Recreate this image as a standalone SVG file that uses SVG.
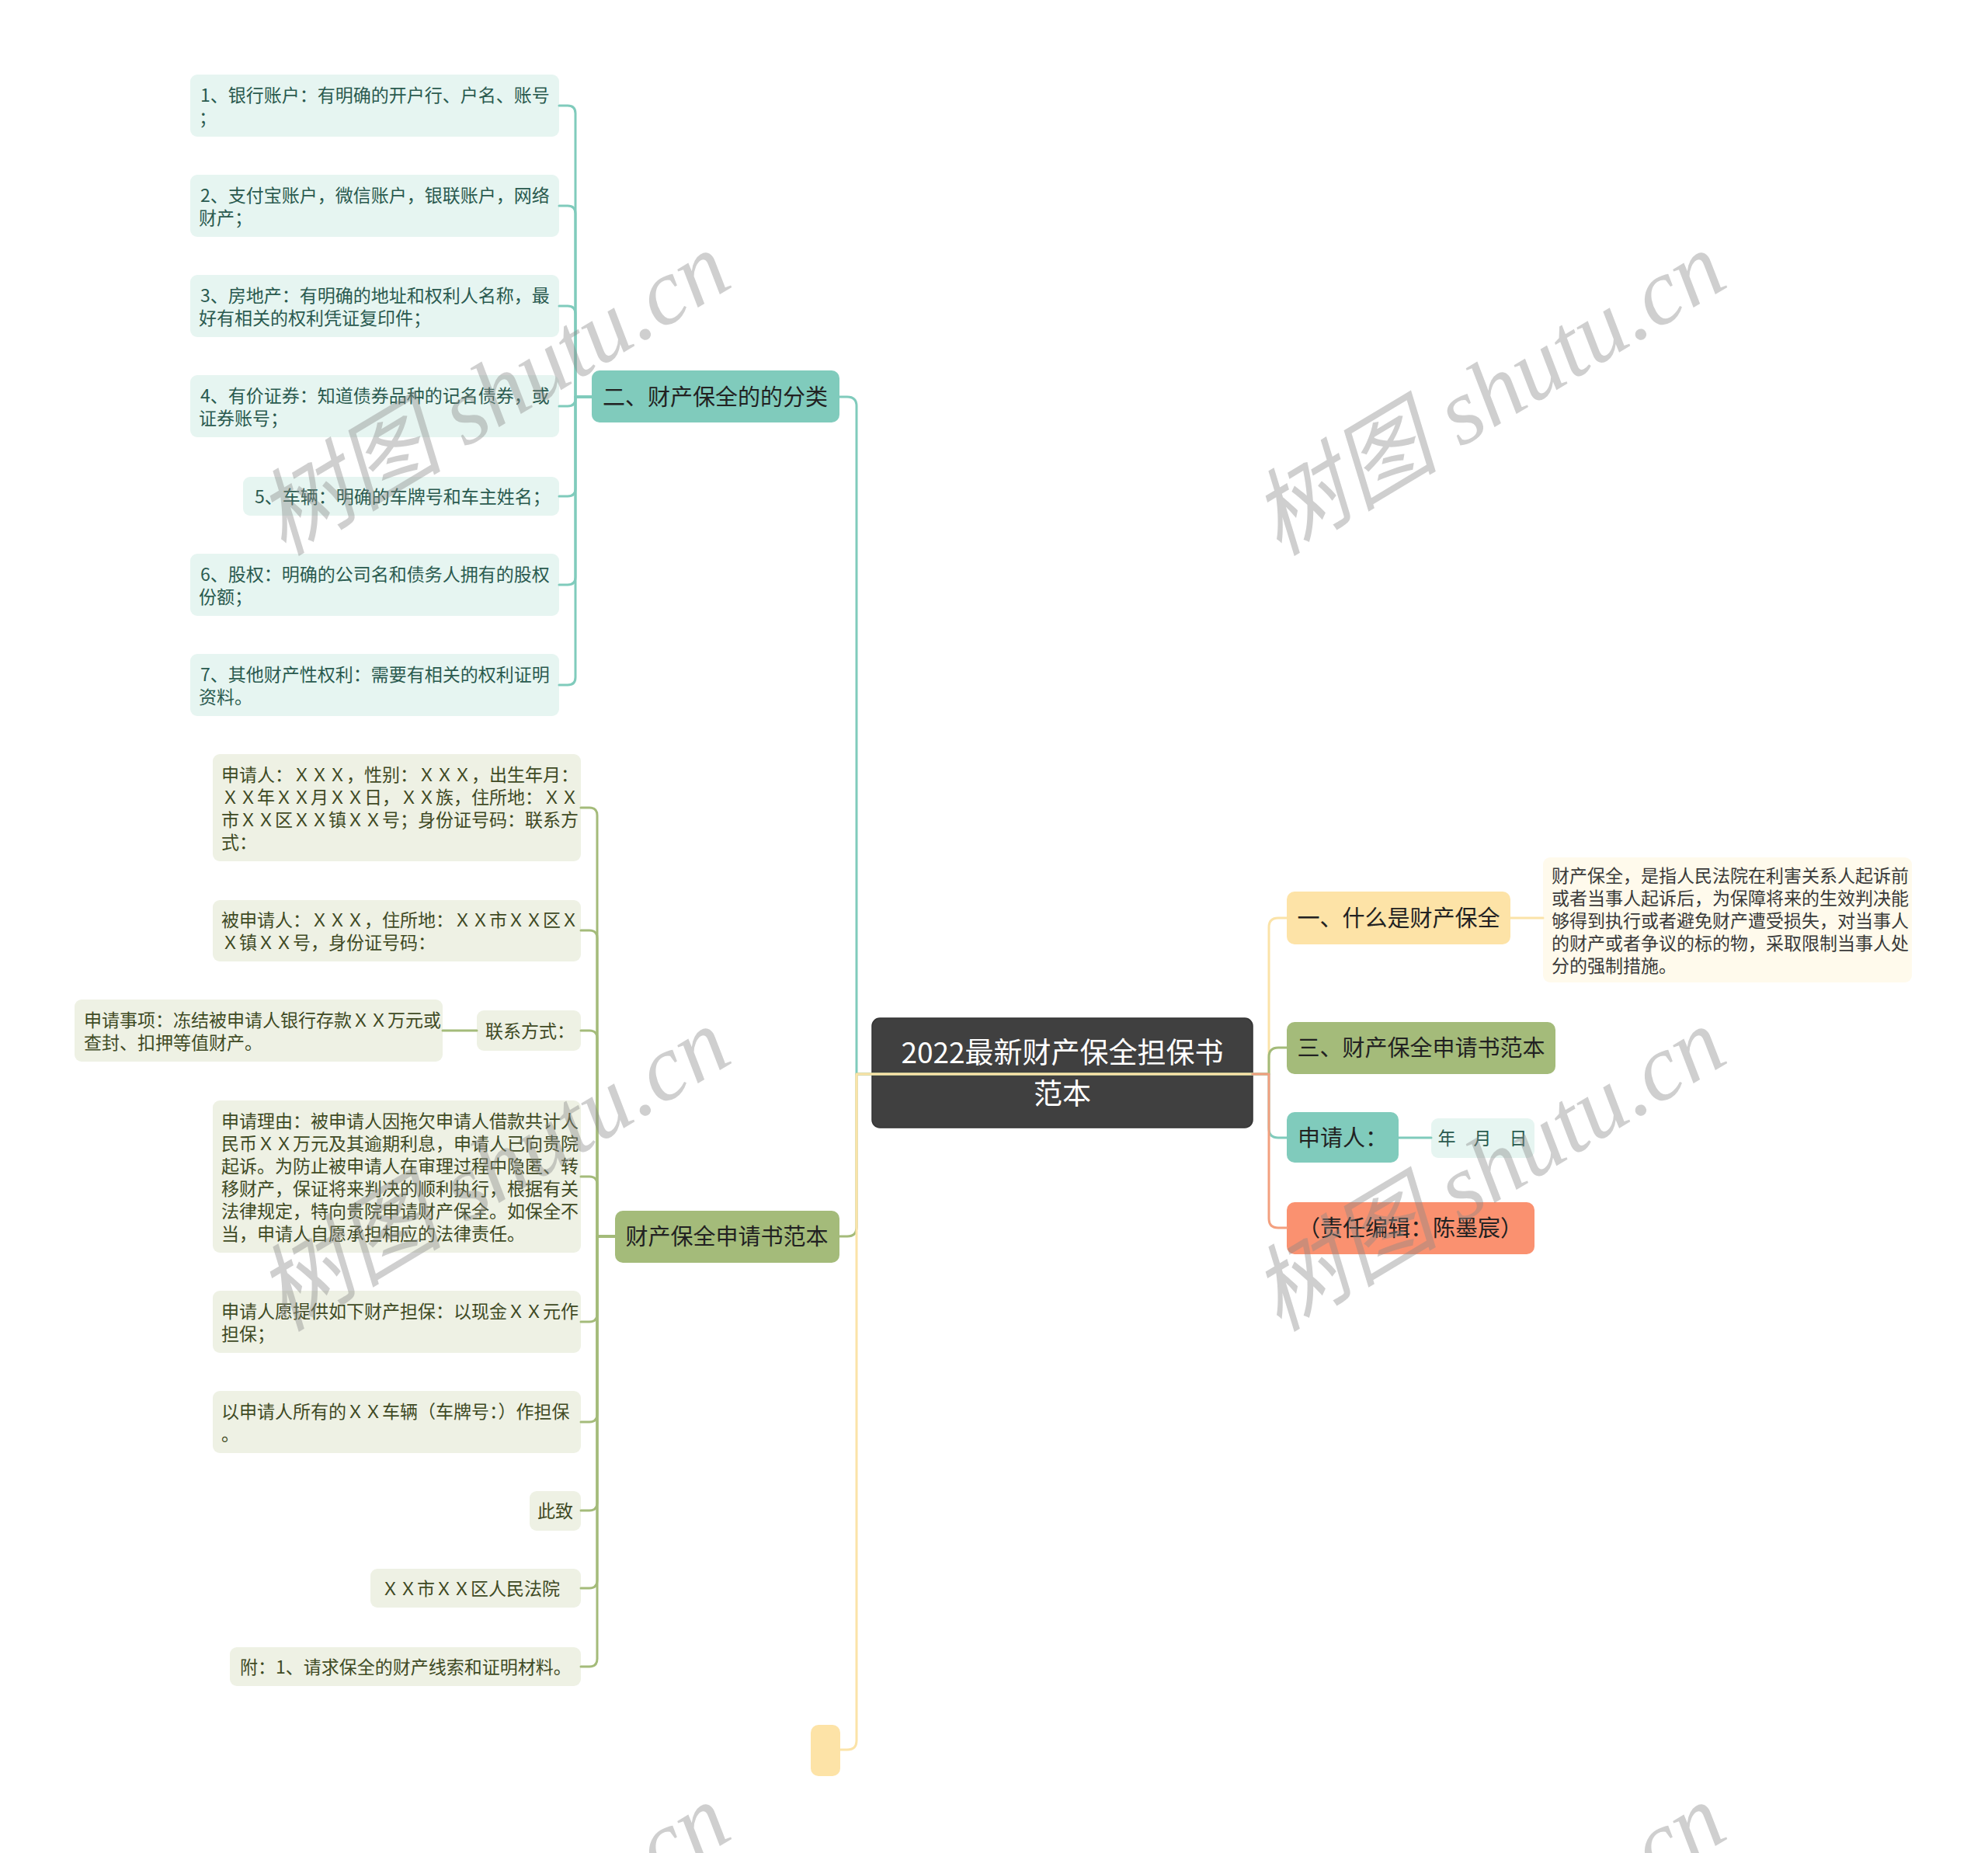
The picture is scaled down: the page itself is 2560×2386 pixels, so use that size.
<svg xmlns="http://www.w3.org/2000/svg" width="2560" height="2386" viewBox="0 0 2560 2386">
<style>
text { font-family: "Noto Sans CJK SC", "Noto Sans", sans-serif; }
.lt { font-size: 23px; fill: #2a5a4f; }
.lg { font-size: 23px; fill: #3f4a24; }
.ly { font-size: 23px; fill: #3a3a3a; }
.mn { font-size: 29px; fill: #222; text-anchor: middle; }
.ct { font-size: 37px; fill: #fff; text-anchor: middle; }
.bt { fill: #e6f5f1; }
.bg { fill: #eef1e4; }
.c { fill: none; stroke-width: 3; stroke-linecap: round; stroke-linejoin: round; }
.ct1 { stroke: #80cbbc; }
.cg { stroke: #a4bb7a; }
.cy { stroke: #fbe3a8; }
.co { stroke: #f3a07f; }
.wm { font-family: "Liberation Serif", "Noto Sans CJK SC", serif; font-style: italic; font-size: 121px; fill: #888; opacity: 0.4; text-anchor: middle; }
</style>
<rect width="2560" height="2386" fill="#fff"/>

<g id="nodes">
  <g id="root">
    <rect x="1123" y="1311" width="490" height="141" rx="10" fill="#404040" stroke="#333" stroke-width="1.5"/>
    <text class="ct" x="1368" y="1369">2022最新财产保全担保书</text>
    <text class="ct" x="1368" y="1422">范本</text>
  </g>

  <g id="n-fenlei">
    <rect x="762" y="477" width="319" height="67" rx="10" fill="#80cbbc"/>
    <text class="mn" x="921" y="522">二、财产保全的的分类</text>
  </g>
  <g id="t1">
    <rect class="bt" x="245" y="96" width="475" height="80" rx="9"/>
    <text class="lt" x="258" y="130.5">1、银行账户：有明确的开户行、户名、账号</text>
    <text class="lt" x="256" y="159.5">；</text>
  </g>
  <g id="t2">
    <rect class="bt" x="245" y="225" width="475" height="80" rx="9"/>
    <text class="lt" x="258" y="259.5">2、支付宝账户，微信账户，银联账户，网络</text>
    <text class="lt" x="256" y="288.5">财产；</text>
  </g>
  <g id="t3">
    <rect class="bt" x="245" y="354" width="475" height="80" rx="9"/>
    <text class="lt" x="258" y="388.5">3、房地产：有明确的地址和权利人名称，最</text>
    <text class="lt" x="256" y="417.5">好有相关的权利凭证复印件；</text>
  </g>
  <g id="t4">
    <rect class="bt" x="245" y="483" width="475" height="80" rx="9"/>
    <text class="lt" x="258" y="517.5">4、有价证券：知道债券品种的记名债券，或</text>
    <text class="lt" x="256" y="546.5">证券账号；</text>
  </g>
  <g id="t5">
    <rect class="bt" x="313" y="614" width="407" height="50" rx="9"/>
    <text class="lt" x="328" y="648">5、车辆：明确的车牌号和车主姓名；</text>
  </g>
  <g id="t6">
    <rect class="bt" x="245" y="713" width="475" height="80" rx="9"/>
    <text class="lt" x="258" y="747.5">6、股权：明确的公司名和债务人拥有的股权</text>
    <text class="lt" x="256" y="776.5">份额；</text>
  </g>
  <g id="t7">
    <rect class="bt" x="245" y="842" width="475" height="80" rx="9"/>
    <text class="lt" x="258" y="876.5">7、其他财产性权利：需要有相关的权利证明</text>
    <text class="lt" x="256" y="905.5">资料。</text>
  </g>

  <g id="n-fanben">
    <rect x="792" y="1559" width="289" height="67" rx="10" fill="#a4bb7a"/>
    <text class="mn" x="936" y="1603">财产保全申请书范本</text>
  </g>
  <g id="gA">
    <rect class="bg" x="274" y="971" width="474" height="138" rx="9"/>
    <text class="lg" x="285" y="1005.5">申请人：ＸＸＸ，性别：ＸＸＸ，出生年月：</text>
    <text class="lg" x="285" y="1034.5">ＸＸ年ＸＸ月ＸＸ日，ＸＸ族，住所地：ＸＸ</text>
    <text class="lg" x="285" y="1063.5">市ＸＸ区ＸＸ镇ＸＸ号；身份证号码：联系方</text>
    <text class="lg" x="285" y="1092.5">式：</text>
  </g>
  <g id="gB">
    <rect class="bg" x="274" y="1159" width="474" height="79" rx="9"/>
    <text class="lg" x="285" y="1193">被申请人：ＸＸＸ，住所地：ＸＸ市ＸＸ区Ｘ</text>
    <text class="lg" x="285" y="1222">Ｘ镇ＸＸ号，身份证号码：</text>
  </g>
  <g id="gC">
    <rect class="bg" x="614" y="1301" width="134" height="52" rx="9"/>
    <text class="lg" x="625" y="1336">联系方式：</text>
  </g>
  <g id="gC1">
    <rect class="bg" x="96" y="1287" width="474" height="80" rx="9"/>
    <text class="lg" x="108" y="1321.5">申请事项：冻结被申请人银行存款ＸＸ万元或</text>
    <text class="lg" x="108" y="1350.5">查封、扣押等值财产。</text>
  </g>
  <g id="gD">
    <rect class="bg" x="274" y="1417" width="474" height="196" rx="9"/>
    <text class="lg" x="285" y="1451.5">申请理由：被申请人因拖欠申请人借款共计人</text>
    <text class="lg" x="285" y="1480.5">民币ＸＸ万元及其逾期利息，申请人已向贵院</text>
    <text class="lg" x="285" y="1509.5">起诉。为防止被申请人在审理过程中隐匿、转</text>
    <text class="lg" x="285" y="1538.5">移财产，保证将来判决的顺利执行，根据有关</text>
    <text class="lg" x="285" y="1567.5">法律规定，特向贵院申请财产保全。如保全不</text>
    <text class="lg" x="285" y="1596.5">当，申请人自愿承担相应的法律责任。</text>
  </g>
  <g id="gE">
    <rect class="bg" x="274" y="1662" width="474" height="80" rx="9"/>
    <text class="lg" x="285" y="1696.5">申请人愿提供如下财产担保：以现金ＸＸ元作</text>
    <text class="lg" x="285" y="1725.5">担保；</text>
  </g>
  <g id="gF">
    <rect class="bg" x="274" y="1791" width="474" height="80" rx="9"/>
    <text class="lg" x="285" y="1825.5">以申请人所有的ＸＸ车辆（车牌号：）作担保</text>
    <text class="lg" x="285" y="1854.5">。</text>
  </g>
  <g id="gG">
    <rect class="bg" x="682" y="1920" width="66" height="51" rx="9"/>
    <text class="lg" x="692" y="1954">此致</text>
  </g>
  <g id="gH">
    <rect class="bg" x="477" y="2020" width="271" height="50" rx="9"/>
    <text class="lg" x="491" y="2054">ＸＸ市ＸＸ区人民法院</text>
  </g>
  <g id="gI">
    <rect class="bg" x="296" y="2121" width="452" height="50" rx="9"/>
    <text class="lg" x="309" y="2155">附：1、请求保全的财产线索和证明材料。</text>
  </g>

  <g id="n-empty">
    <rect x="1044" y="2221" width="38" height="66" rx="10" fill="#fde3a7"/>
  </g>

  <g id="n-what">
    <rect x="1657" y="1148" width="288" height="68" rx="10" fill="#fde3a7"/>
    <text class="mn" x="1801" y="1193">一、什么是财产保全</text>
  </g>
  <g id="y1">
    <rect x="1987" y="1104" width="475" height="161" rx="9" fill="#fffaec"/>
    <text class="ly" x="1998" y="1135.5">财产保全，是指人民法院在利害关系人起诉前</text>
    <text class="ly" x="1998" y="1164.5">或者当事人起诉后，为保障将来的生效判决能</text>
    <text class="ly" x="1998" y="1193.5">够得到执行或者避免财产遭受损失，对当事人</text>
    <text class="ly" x="1998" y="1222.5">的财产或者争议的标的物，采取限制当事人处</text>
    <text class="ly" x="1998" y="1251.5">分的强制措施。</text>
  </g>
  <g id="n-san">
    <rect x="1657" y="1316" width="346" height="67" rx="10" fill="#a4bb7a"/>
    <text class="mn" x="1830" y="1360">三、财产保全申请书范本</text>
  </g>
  <g id="n-applicant">
    <rect x="1657" y="1432" width="144" height="65" rx="10" fill="#80cbbc"/>
    <text class="mn" x="1729" y="1476">申请人：</text>
  </g>
  <g id="date">
    <rect class="bt" x="1843" y="1440" width="133" height="51" rx="9"/>
    <text class="lt" x="1909" y="1474" text-anchor="middle">年　月　日</text>
  </g>
  <g id="n-editor">
    <rect x="1657" y="1548" width="319" height="67" rx="10" fill="#fa9170"/>
    <text class="mn" x="1816" y="1592">（责任编辑：陈墨宸）</text>
  </g>
</g>

<g id="connectors">
  <path class="c ct1" d="M1613,1383 H1103 V523 Q1103,511 1091,511 H1081"/>
  <path class="c cg" d="M1613,1383 H1103 V1580 Q1103,1592 1091,1592 H1081"/>
  <path class="c cy" d="M1613,1383 H1103 V2241 Q1103,2253 1091,2253 H1082"/>
  <path class="c cy" d="M1613,1383 H1634 V1194 Q1634,1182 1646,1182 H1657"/>
  <path class="c cg" d="M1613,1383 H1634 V1361 Q1634,1349 1646,1349 H1657"/>
  <path class="c ct1" d="M1613,1383 H1634 V1453 Q1634,1465 1646,1465 H1657"/>
  <path class="c co" d="M1613,1383 H1634 V1569 Q1634,1581 1646,1581 H1657"/>
  <path class="c cy" d="M1945,1182 H1987"/>
  <path class="c ct1" d="M1801,1465 H1843"/>
  <path class="c ct1" d="M762,511 H741 V146 Q741,136 731,136 H720"/>
  <path class="c ct1" d="M762,511 H741 V275 Q741,265 731,265 H720"/>
  <path class="c ct1" d="M762,511 H741 V404 Q741,394 731,394 H720"/>
  <path class="c ct1" d="M762,511 H741 V513 Q741,523 731,523 H720"/>
  <path class="c ct1" d="M762,511 H741 V629 Q741,639 731,639 H720"/>
  <path class="c ct1" d="M762,511 H741 V743 Q741,753 731,753 H720"/>
  <path class="c ct1" d="M762,511 H741 V872 Q741,882 731,882 H720"/>
  <path class="c cg" d="M792,1592 H769 V1050 Q769,1040 759,1040 H748"/>
  <path class="c cg" d="M792,1592 H769 V1208 Q769,1198 759,1198 H748"/>
  <path class="c cg" d="M792,1592 H769 V1337 Q769,1327 759,1327 H748"/>
  <path class="c cg" d="M792,1592 H769 V1525 Q769,1515 759,1515 H748"/>
  <path class="c cg" d="M792,1592 H769 V1692 Q769,1702 759,1702 H748"/>
  <path class="c cg" d="M792,1592 H769 V1821 Q769,1831 759,1831 H748"/>
  <path class="c cg" d="M792,1592 H769 V1935 Q769,1945 759,1945 H748"/>
  <path class="c cg" d="M792,1592 H769 V2035 Q769,2045 759,2045 H748"/>
  <path class="c cg" d="M792,1592 H769 V2136 Q769,2146 759,2146 H748"/>
  <path class="c cg" d="M614,1327 H570"/>
</g>

<g id="watermarks">
  <text class="wm" x="656" y="542" transform="rotate(-31 656 542)">树图 shutu.cn</text>
  <text class="wm" x="1938" y="542" transform="rotate(-31 1938 542)">树图 shutu.cn</text>
  <text class="wm" x="656" y="1541" transform="rotate(-31 656 1541)">树图 shutu.cn</text>
  <text class="wm" x="1938" y="1541" transform="rotate(-31 1938 1541)">树图 shutu.cn</text>
  <text class="wm" x="656" y="2540" transform="rotate(-31 656 2540)">树图 shutu.cn</text>
  <text class="wm" x="1938" y="2540" transform="rotate(-31 1938 2540)">树图 shutu.cn</text>
</g>
</svg>
